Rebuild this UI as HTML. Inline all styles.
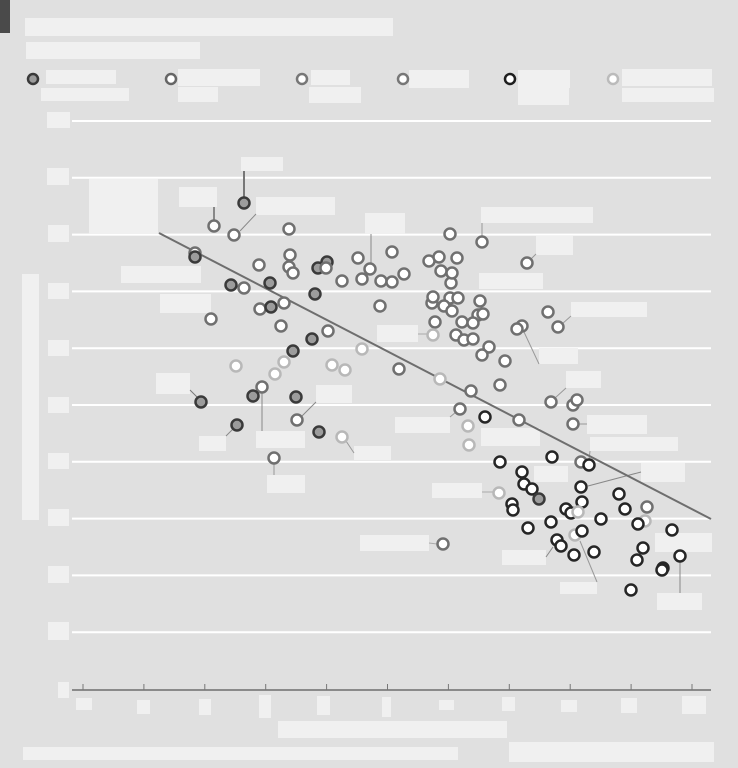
<!DOCTYPE html>
<html><head><meta charset="utf-8"><style>
html,body{margin:0;padding:0;background:#e0e0e0;}
svg{display:block;font-family:"Liberation Sans",sans-serif;}
</style></head><body>
<svg id="chart" width="738" height="768" viewBox="0 0 738 768" xmlns="http://www.w3.org/2000/svg">
<rect x="0" y="0" width="738" height="768" fill="#e0e0e0"/>
<rect x="0" y="0" width="10" height="33" fill="#4a4a4a"/>
<g id="grid"></g>
<g id="boxes"></g>
<g id="leaders"></g>
<g id="fit"></g>
<g id="points"></g>
<g id="legend"></g>
</svg>
<script>
// data (x units, y units)
const xs = [161,131,151,206,112,112,148,161,176,207,206,210,187,235,244,243,259,275,279,287,298,309,309,321,
128,177,188,201,232,198,229,245,210,297,279,153,201,192,179,170,213,214,249,262,118,154,236,259,191,316,
367,399,346,356,374,358,368,369,349,350,367,361,369,375,379,397,395,400,352,390,373,381,390,406,399,422,
350,444,465,475,439,434,357,388,417,377,402,385,386,436,468,490,494,490,
417,439,441,449,456,429,430,416,469,498,506,498,499,483,488,495,518,468,445,474,478,492,499,511,491,
536,542,564,562,555,589,560,554,580,579,597,548,360];
const ys = [486,463,454,460,436,432,404,401,424,434,422,416,406,421,427,421,408,431,410,420,408,407,437,415,
370,380,382,386,395,363,350,358,338,383,340,323,327,315,302,293,292,269,324,319,287,264,257,252,231,320,
455,447,428,432,431,418,406,416,386,392,391,383,378,391,367,388,374,375,367,366,354,349,350,342,334,328,
354,426,377,362,363,360,310,298,304,280,272,263,244,269,287,284,289,265,
227,217,205,200,190,185,179,196,232,227,224,202,187,180,176,177,170,167,161,149,143,154,158,137,134,
195,180,182,168,165,159,141,129,121,119,133,99,145];
const cats = ["A","B","B","B","B","A","A","B","B","B","B","B","A","A","A","B","B","B","B","B","B","B","B","B",
"B","B","A","B","A","B","A","B","A","B","C","C","C","C","B","A","A","B","C","C","A","A","A","C","B","B",
"B","B","B","B","B","B","B","B","B","B","B","B","B","B","B","B","B","B","B","B","B","B","B","B","B","B",
"C","B","B","B","B","B","C","B","B","B","E","C","C","B","B","B","B","B",
"E","E","E","E","A","E","E","C","E","B","E","E","E","E","E","C","E","E","E","E","E","C","E","E","E",
"E","E","B","C","E","E","E","E","E","E","E","E","B"];
const xTicks = [0,1,2,3,4,5,6,7,8,9,10];
const yTicks = [0,1,2,3,4,5,6,7,8,9,10];
const fitStart = [76,456];
const fitEnd = [628,170];
</script>
<script>
const NS="http://www.w3.org/2000/svg";
const X0=83, Y0=689, XSPAN=609, YSPAN=568, XMAX=609, YMAX=568;
function xS(v){return X0+v*XSPAN/XMAX;}
function yS(v){return Y0-v*YSPAN/YMAX;}
function xT(t){return X0+t*XSPAN/10;}
function yT(t){return Y0-t*YSPAN/10;}
function mk(tag,attrs,parent){const e=document.createElementNS(NS,tag);for(const k in attrs)e.setAttribute(k,attrs[k]);parent.appendChild(e);return e;}
const grid=document.getElementById('grid');
yTicks.forEach(t=>{ if(t===0) return;
  const l=mk('line',{x1:72,x2:711,y1:yT(t),y2:yT(t),stroke:'#ffffff','stroke-width':2},grid);
  
  
});
const ax=mk('line',{x1:72,x2:711,y1:690,y2:690,stroke:'#8a8a8a','stroke-width':2},grid);


xTicks.forEach(t=>{
  const l=mk('line',{x1:xT(t),x2:xT(t),y1:684,y2:690,stroke:'#777','stroke-width':1},grid);
  
  
});
const boxes=[
[25,18,368,18,'title'],[26,42,174,17,'subtitle'],
[46,70,70,14,'legend-label'],[41,88,88,13,'legend-label'],[178,69,82,17,'legend-label'],[178,87,40,15,'legend-label'],
[311,70,39,15,'legend-label'],[309,87,52,16,'legend-label'],[409,70,60,18,'legend-label'],[518,70,52,18,'legend-label'],
[518,88,51,17,'legend-label'],[622,69,90,17,'legend-label'],[622,88,92,14,'legend-label'],
[47,112,23,16,'y-tick-label'],[47,168,22,17,'y-tick-label'],[48,225,21,17,'y-tick-label'],[48,283,21,16,'y-tick-label'],
[48,340,21,16,'y-tick-label'],[48,397,21,16,'y-tick-label'],[48,453,21,16,'y-tick-label'],[48,509,21,17,'y-tick-label'],
[48,566,21,17,'y-tick-label'],[48,622,21,18,'y-tick-label'],[58,682,11,16,'y-tick-label'],
[22,274,17,246,'y-axis-title'],
[76,698,16,12,'x-tick-label'],[137,700,13,14,'x-tick-label'],[199,699,12,16,'x-tick-label'],[259,695,12,23,'x-tick-label'],
[317,696,13,19,'x-tick-label'],[382,697,9,20,'x-tick-label'],[439,700,15,10,'x-tick-label'],[502,697,13,14,'x-tick-label'],
[561,700,16,12,'x-tick-label'],[621,698,16,15,'x-tick-label'],[682,696,24,18,'x-tick-label'],
[278,721,229,17,'x-axis-title'],[23,747,435,13,'source-note'],[509,742,205,20,'credit-note'],
[241,157,42,14,'annotation'],[179,187,38,20,'annotation'],[256,197,79,18,'annotation'],[89,179,69,55,'annotation'],
[365,213,40,21,'annotation'],[481,207,112,16,'annotation'],[536,236,37,19,'annotation'],[121,266,80,17,'annotation'],
[160,294,51,19,'annotation'],[479,273,64,16,'annotation'],[571,302,76,15,'annotation'],[377,325,41,17,'annotation'],
[539,348,39,16,'annotation'],[156,373,34,21,'annotation'],[316,385,36,18,'annotation'],[566,371,35,17,'annotation'],
[395,417,55,16,'annotation'],[587,415,60,19,'annotation'],[481,428,59,18,'annotation'],[199,436,27,15,'annotation'],
[256,431,49,17,'annotation'],[590,437,88,14,'annotation'],[354,446,37,14,'annotation'],[267,475,38,18,'annotation'],
[641,463,44,19,'annotation'],[432,483,50,15,'annotation'],[534,466,34,16,'annotation'],[360,535,69,16,'annotation'],
[655,533,57,19,'annotation'],[502,550,44,15,'annotation'],[560,582,37,12,'annotation'],[657,593,45,17,'annotation']
];
const bg=document.getElementById('boxes');
boxes.forEach(b=>{
  const r=mk('rect',{x:b[0],y:b[1],width:b[2],height:b[3],fill:'#f0f0f0'},bg);
  
  
});
const leads=[[244,171,244,197,'#777',2],[214,207,214,220,'#888',2],[256,214,240,231,'#888',1],[371,234,371,264,'#888',1],
[482,223,482,236,'#999',1],[536,254,530,260,'#999',1],[571,316,562,324,'#999',1],[418,334,428,334,'#aaa',1],
[539,364,524,332,'#999',1],[190,390,198,398,'#777',1],[316,402,302,416,'#888',1],[566,388,555,398,'#999',1],
[450,417,456,412,'#999',1],[587,424,579,424,'#999',1],[226,436,233,429,'#888',1],[262,431,262,392,'#888',1],
[590,451,589,460,'#999',1],[354,453,346,441,'#999',1],[274,475,274,464,'#999',1],[641,472,588,486,'#888',1],
[482,492,493,492,'#aaa',1],[429,543,437,544,'#aaa',1],[546,557,553,547,'#888',1],[597,582,580,541,'#999',1],[680,593,680,562,'#888',1]];
const lg=document.getElementById('leaders');
leads.forEach(d=>{
  const l=mk('line',{x1:d[0],y1:d[1],x2:d[2],y2:d[3],stroke:d[4],'stroke-width':d[5]},lg);
  
  
});
const fit=mk('line',{x1:xS(fitStart[0]),y1:yS(fitStart[1]),x2:xS(fitEnd[0]),y2:yS(fitEnd[1]),stroke:'#6e6e6e','stroke-width':2},document.getElementById('fit'));


const styles={A:{fill:'#9c9c9c',stroke:'#3a3a3a'},B:{fill:'#ffffff',stroke:'#707070'},C:{fill:'#ffffff',stroke:'#b8b8b8'},E:{fill:'#ffffff',stroke:'#262626'}};
const pg=document.getElementById('points');
xs.forEach((v,i)=>{
  const s=styles[cats[i]]||styles.B;
  const c=mk('circle',{cx:xS(v),cy:yS(ys[i]),r:5.5,fill:s.fill,stroke:s.stroke,'stroke-width':2.5},pg);
  
  
});
const legX=[33,171,302,403,510,613];
const legC=[{fill:'#9c9c9c',stroke:'#3a3a3a'},{fill:'#fff',stroke:'#666'},{fill:'#fff',stroke:'#777'},{fill:'#fff',stroke:'#777'},{fill:'#fff',stroke:'#1e1e1e'},{fill:'#fff',stroke:'#bbb'}];
const lgd=document.getElementById('legend');
legX.forEach((x,i)=>{
  const c=mk('circle',{cx:x,cy:79,r:5,fill:legC[i].fill,stroke:legC[i].stroke,'stroke-width':2.5},lgd);
  
  
});
</script>
</body></html>
